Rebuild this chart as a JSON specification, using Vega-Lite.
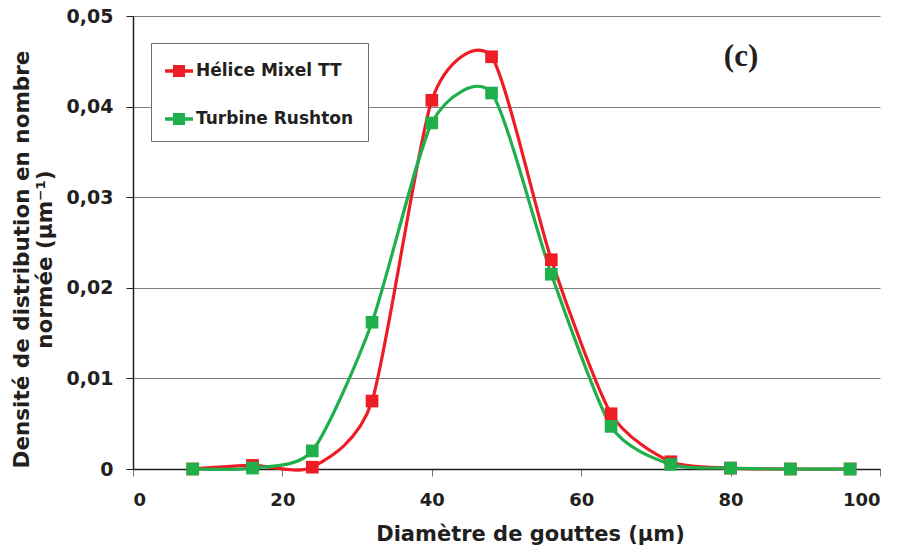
{
  "$schema": "https://vega.github.io/schema/vega-lite/v6.json",
  "width": 747,
  "height": 453,
  "autosize": {"type": "none"},
  "padding": {"left": 133, "top": 16, "right": 21, "bottom": 83},
  "background": "white",
  "config": {"view": {"stroke": null}, "font": "DejaVu Sans"},
  "data": {
    "values": [
      {"series": "Hélice Mixel TT", "diam": 8, "dens": 0.0},
      {"series": "Hélice Mixel TT", "diam": 16, "dens": 0.0004},
      {"series": "Hélice Mixel TT", "diam": 24, "dens": 0.0002},
      {"series": "Hélice Mixel TT", "diam": 32, "dens": 0.0075},
      {"series": "Hélice Mixel TT", "diam": 40, "dens": 0.0407},
      {"series": "Hélice Mixel TT", "diam": 48, "dens": 0.0455},
      {"series": "Hélice Mixel TT", "diam": 56, "dens": 0.0231},
      {"series": "Hélice Mixel TT", "diam": 64, "dens": 0.0061},
      {"series": "Hélice Mixel TT", "diam": 72, "dens": 0.0008},
      {"series": "Hélice Mixel TT", "diam": 80, "dens": 0.0001},
      {"series": "Hélice Mixel TT", "diam": 88, "dens": 0.0},
      {"series": "Hélice Mixel TT", "diam": 96, "dens": 0.0},
      {"series": "Turbine Rushton", "diam": 8, "dens": 0.0},
      {"series": "Turbine Rushton", "diam": 16, "dens": 0.0001},
      {"series": "Turbine Rushton", "diam": 24, "dens": 0.002},
      {"series": "Turbine Rushton", "diam": 32, "dens": 0.0162},
      {"series": "Turbine Rushton", "diam": 40, "dens": 0.0382},
      {"series": "Turbine Rushton", "diam": 48, "dens": 0.0415},
      {"series": "Turbine Rushton", "diam": 56, "dens": 0.0215},
      {"series": "Turbine Rushton", "diam": 64, "dens": 0.0047},
      {"series": "Turbine Rushton", "diam": 72, "dens": 0.0005},
      {"series": "Turbine Rushton", "diam": 80, "dens": 0.0001},
      {"series": "Turbine Rushton", "diam": 88, "dens": 0.0},
      {"series": "Turbine Rushton", "diam": 96, "dens": 0.0}
    ]
  },
  "encoding": {
    "x": {
      "field": "diam",
      "type": "quantitative",
      "scale": {"domain": [0, 100], "nice": false},
      "axis": {
        "values": [0, 20, 40, 60, 80, 100],
        "grid": false,
        "tickSize": 7,
        "tickColor": "#777777",
        "domainColor": "#231f20",
        "domainWidth": 1.5,
        "labelPadding": 15,
        "labelFontSize": 18,
        "labelFontWeight": "bold",
        "labelColor": "#231f20",
        "title": "Diamètre de gouttes (µm)",
        "titleFontSize": 21,
        "titleFontWeight": "bold",
        "titleColor": "#231f20",
        "titleBaseline": "alphabetic",
        "titleX": 397,
        "titleY": 71
      }
    },
    "y": {
      "field": "dens",
      "type": "quantitative",
      "scale": {"domain": [0, 0.05], "nice": false},
      "axis": {
        "values": [0, 0.01, 0.02, 0.03, 0.04, 0.05],
        "labelExpr": "datum.value == 0 ? '0' : replace(format(datum.value, '.2f'), '.', ',')",
        "grid": true,
        "gridColor": "#7f7f7f",
        "gridWidth": 1,
        "domainColor": "#231f20",
        "domainWidth": 1.5,
        "tickColor": "#231f20",
        "tickSize": 7,
        "labelPadding": 13,
        "labelFontSize": 19,
        "labelFontWeight": "bold",
        "labelColor": "#231f20",
        "title": ["Densité de distribution en nombre", "normée (µm⁻¹)"],
        "titleFontSize": 21.5,
        "titleFontWeight": "bold",
        "titleColor": "#231f20",
        "titleLineHeight": 23,
        "titleAngle": -90,
        "titleAlign": "center",
        "titleBaseline": "top",
        "titleX": -122,
        "titleY": 243
      }
    }
  },
  "layer": [
    {
      "mark": {"type": "line", "interpolate": "cardinal", "tension": 0.3, "strokeWidth": 3.2},
      "encoding": {
        "color": {
          "field": "series",
          "type": "nominal",
          "scale": {"domain": ["Hélice Mixel TT", "Turbine Rushton"], "range": ["#ee1c25", "#1fb04c"]},
          "legend": {
            "title": null,
            "orient": "none",
            "legendX": 18,
            "legendY": 27,
            "symbolType": "M-1,-0.13H-0.43V-0.43H0.43V-0.13H1V0.13H0.43V0.43H-0.43V0.13H-1Z",
            "symbolSize": 784,
            "symbolStrokeWidth": 0,
            "labelFontSize": 17,
            "labelFont": "DejaVu Sans",
            "labelFontWeight": "bold",
            "labelColor": "#231f20",
            "labelOffset": 3,
            "labelLimit": 300,
            "rowPadding": 26,
            "padding": 14,
            "strokeColor": "#6d6d6d",
            "fillColor": "white",
            "encode": {"symbols": {"update": {"fill": {"scale": "color", "field": "value"}, "strokeWidth": {"value": 0}, "opacity": {"value": 1}}}}
          }
        }
      }
    },
    {
      "mark": {"type": "point", "shape": "square", "filled": true, "size": 160, "opacity": 1},
      "encoding": {
        "color": {
          "field": "series",
          "type": "nominal",
          "scale": {"domain": ["Hélice Mixel TT", "Turbine Rushton"], "range": ["#ee1c25", "#1fb04c"]},
          "legend": {
            "title": null,
            "orient": "none",
            "legendX": 18,
            "legendY": 27,
            "symbolType": "M-1,-0.13H-0.43V-0.43H0.43V-0.13H1V0.13H0.43V0.43H-0.43V0.13H-1Z",
            "symbolSize": 784,
            "symbolStrokeWidth": 0,
            "labelFontSize": 17,
            "labelFont": "DejaVu Sans",
            "labelFontWeight": "bold",
            "labelColor": "#231f20",
            "labelOffset": 3,
            "labelLimit": 300,
            "rowPadding": 26,
            "padding": 14,
            "strokeColor": "#6d6d6d",
            "fillColor": "white",
            "encode": {"symbols": {"update": {"fill": {"scale": "color", "field": "value"}, "strokeWidth": {"value": 0}, "opacity": {"value": 1}}}}
          }
        }
      }
    },
    {
      "data": {"values": [{"label": "(c)", "diam": 81.4, "dens": 0.0455}]},
      "mark": {"type": "text", "font": "Liberation Serif", "fontWeight": "bold", "fontSize": 31, "color": "#231f20", "baseline": "middle", "align": "center"},
      "encoding": {"text": {"field": "label"}}
    }
  ]
}
